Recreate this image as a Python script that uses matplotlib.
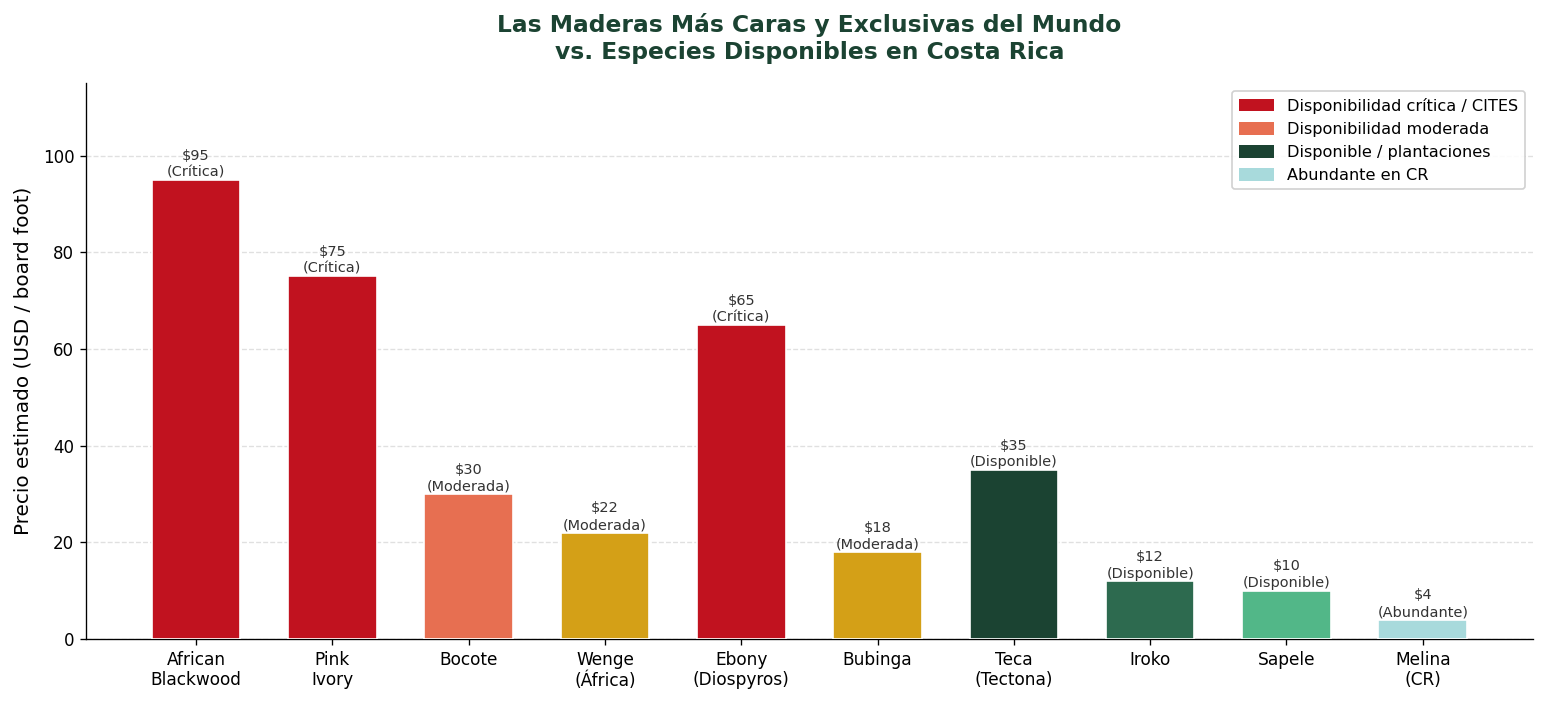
import matplotlib
matplotlib.use("Agg")
import matplotlib.pyplot as plt
from matplotlib.patches import Patch

plt.rcParams["font.family"] = ["DejaVu Sans"]

species = ["African\nBlackwood", "Pink\nIvory", "Bocote", "Wenge\n(África)", "Ebony\n(Diospyros)",
           "Bubinga", "Teca\n(Tectona)", "Iroko", "Sapele", "Melina\n(CR)"]
prices = [95, 75, 30, 22, 65, 18, 35, 12, 10, 4]
status = ["Crítica", "Crítica", "Moderada", "Moderada", "Crítica", "Moderada",
          "Disponible", "Disponible", "Disponible", "Abundante"]
colors = ["#C1121F", "#C1121F", "#E76F51", "#D4A017", "#C1121F", "#D4A017",
          "#1B4332", "#2D6A4F", "#52B788", "#A8DADC"]
legend_labels = ["Disponibilidad crítica / CITES", "Disponibilidad moderada",
                 "Disponible / plantaciones", "Abundante en CR"]
legend_colors = ["#C1121F", "#E76F51", "#1B4332", "#A8DADC"]

fig, ax = plt.subplots(figsize=(1546 / 120, 704 / 120), dpi=120)
fig.subplots_adjust(left=0.0556, right=0.9915, top=0.882, bottom=0.0923)

x = range(len(species))
bars = ax.bar(x, prices, width=0.65, color=colors, edgecolor="white", linewidth=1, zorder=3)
for xi, p, s in zip(x, prices, status):
    ax.text(xi, p + 0.1, f"${p}\n({s})", ha="center", va="bottom", fontsize=8.7,
            color="#333333", linespacing=1.25, zorder=4)

ax.set_xticks(list(x))
ax.set_xticklabels(species, fontsize=10.2)
ax.tick_params(axis="y", labelsize=10)
ax.set_ylim(0, 115)
ax.set_yticks([0, 20, 40, 60, 80, 100])
ax.set_ylabel("Precio estimado (USD / board foot)", fontsize=12, labelpad=6)
ax.set_title("Las Maderas Más Caras y Exclusivas del Mundo\nvs. Especies Disponibles en Costa Rica",
             fontsize=14, fontweight="bold", color="#1B4332", pad=14.5)
ax.grid(axis="y", linestyle="--", color="#cccccc", alpha=0.6, zorder=0)
ax.spines["top"].set_visible(False)
ax.spines["right"].set_visible(False)

handles = [Patch(facecolor=c, label=l) for c, l in zip(legend_colors, legend_labels)]
ax.legend(handles=handles, loc="upper right", fontsize=9.7, framealpha=0.9,
          handlelength=2.2, handleheight=0.85, labelspacing=0.5)

fig.savefig("out.png", dpi=120)
